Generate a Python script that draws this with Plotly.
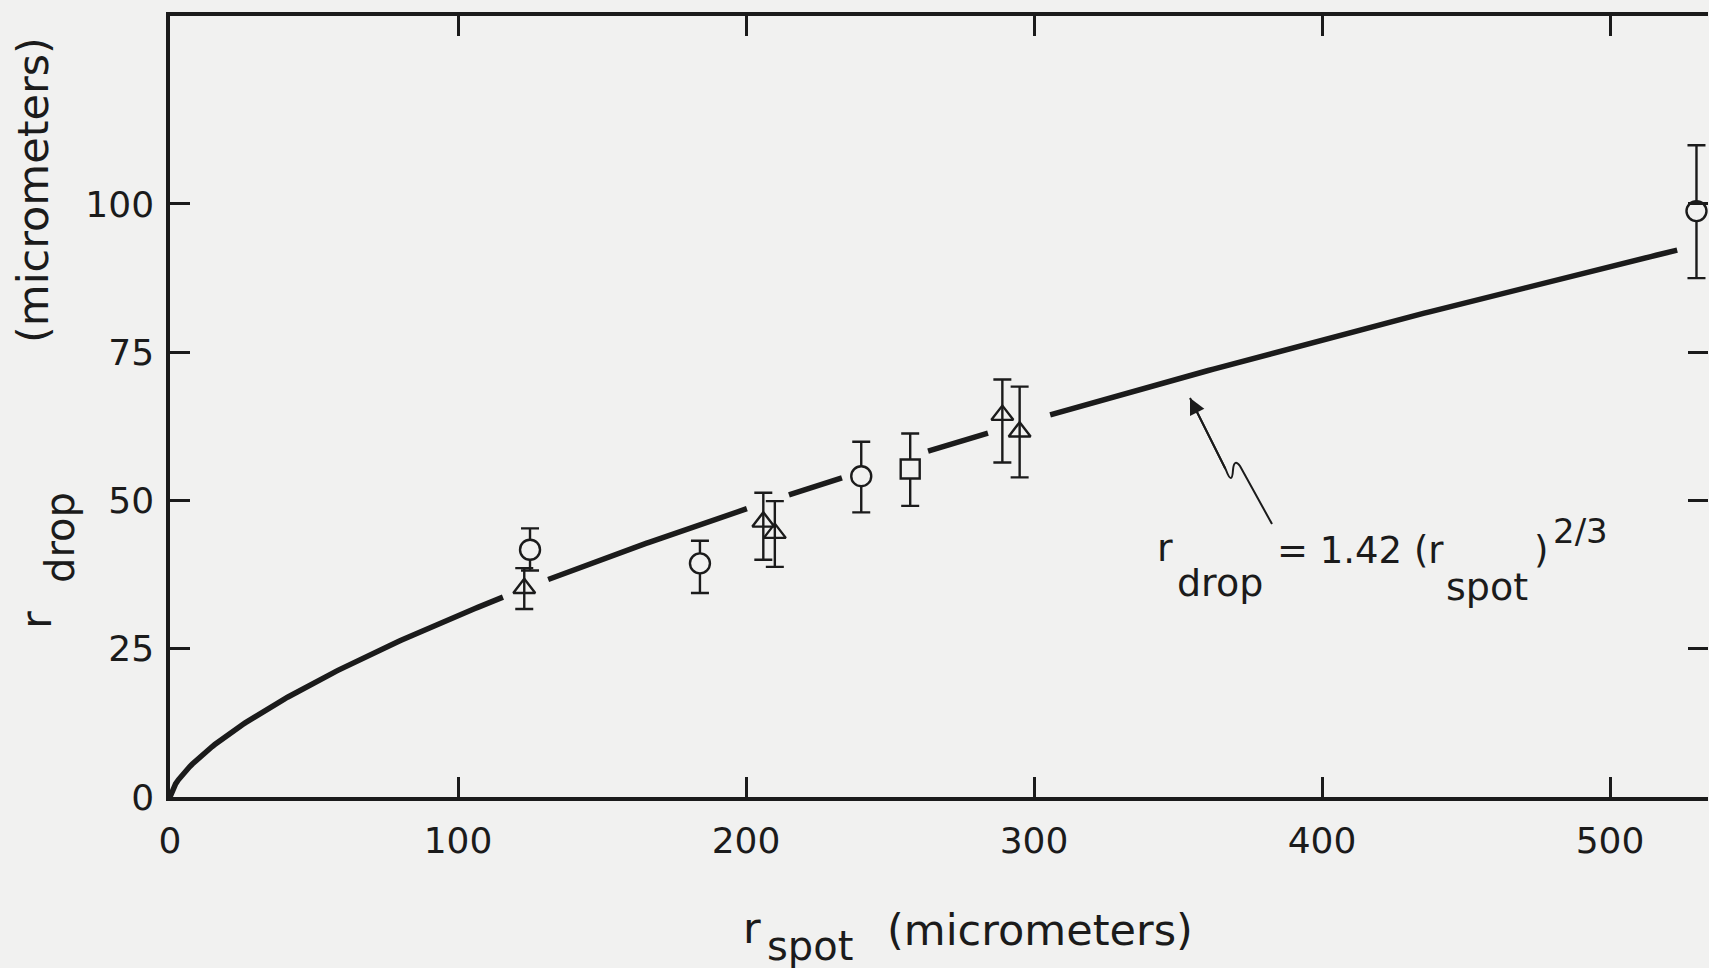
import numpy as np
import plotly.graph_objects as go

# ---- measured drop radius vs. spot radius (micrometers) ----
circle_spot = [125, 184, 240, 530]
circle_drop = [41.7, 39.4, 54.1, 98.8]
circle_err_hi = [3.6, 3.8, 5.8, 11.1]
circle_err_lo = [3.5, 5.0, 6.1, 11.3]

triangle_spot = [123, 206, 210, 289, 295]
triangle_drop = [35.2, 46.4, 44.5, 64.4, 61.6]
triangle_err_hi = [3.4, 4.9, 5.4, 6.0, 7.6]
triangle_err_lo = [3.5, 6.4, 5.7, 8.0, 7.7]

square_spot = [257]
square_drop = [55.3]
square_err_hi = [6.0]
square_err_lo = [6.2]

# ---- fitted relation r_drop = 1.42 * r_spot^(2/3) ----
fit_coef = 1.42
fit_exp = 2.0 / 3.0
# the fit line is broken where it runs through the data symbols
fit_pieces = [(0.0, 115.6), (131.3, 200.3), (214.9, 233.3), (263.2, 284.0), (305.6, 523.3)]

x_ticks = [0, 100, 200, 300, 400, 500]
y_ticks = [0, 25, 50, 75, 100]
x_range = [0, 534]
y_range = [0, 131.7]

# ---- page geometry (pixels) ----
W, H = 1709, 968
L, R, T, B = 170, 1708, 16, 797
INK = "#1b1b1b"
BG = "#f1f1f0"
FONT = "DejaVu Sans"


def px_to_data(px, py):
    x = x_range[0] + (px - L) / (R - L) * (x_range[1] - x_range[0])
    y = y_range[0] + (B - py) / (B - T) * (y_range[1] - y_range[0])
    return x, y


def px_to_paper(px, py):
    return (px - L) / (R - L), (B - py) / (B - T)


fig = go.Figure()

# fit curve, drawn piecewise
cx, cy = [], []
for a, b in fit_pieces:
    xs = np.linspace(a, b, 120)
    cx.extend(xs.tolist() + [None])
    cy.extend((fit_coef * xs ** fit_exp).tolist() + [None])
fig.add_trace(go.Scatter(x=cx, y=cy, mode="lines",
                         line=dict(color=INK, width=5.5), hoverinfo="skip"))


def err(hi, lo):
    return dict(type="data", symmetric=False, array=hi, arrayminus=lo,
                color=INK, thickness=2.4, width=9)


fig.add_trace(go.Scatter(
    x=triangle_spot, y=triangle_drop, mode="markers",
    error_y=err(triangle_err_hi, triangle_err_lo),
    marker=dict(symbol="triangle-up-open", size=19, color=INK,
                line=dict(color=INK, width=2.4))))
fig.add_trace(go.Scatter(
    x=circle_spot, y=circle_drop, mode="markers",
    error_y=err(circle_err_hi, circle_err_lo),
    marker=dict(symbol="circle", size=20, color=BG,
                line=dict(color=INK, width=2.4))))
fig.add_trace(go.Scatter(
    x=square_spot, y=square_drop, mode="markers",
    error_y=err(square_err_hi, square_err_lo),
    marker=dict(symbol="square", size=19, color=BG,
                line=dict(color=INK, width=2.4))))

# holder trace so the right-hand tick axis is drawn
fig.add_trace(go.Scatter(x=[0], y=[0], yaxis="y2", mode="markers",
                         marker=dict(opacity=0), hoverinfo="skip"))

# ---- text pieces ----
annotations = []


def put(text, px, py, size, angle=0, anchor="center"):
    xp, yp = px_to_paper(px, py)
    annotations.append(dict(text=text, x=xp, y=yp, xref="paper", yref="paper",
                            xanchor=anchor, yanchor="middle", showarrow=False,
                            textangle=angle,
                            font=dict(family=FONT, size=size, color=INK)))


# x axis title
put("r", 752, 928, 43)
put("spot", 810, 946, 40)
put("(micrometers)", 1040, 930, 43)
# y axis title (rotated)
put("r", 36, 620, 43, angle=-90)
put("drop", 60, 537, 40, angle=-90)
put("(micrometers)", 33, 190, 43, angle=-90)
# fit label
put("r", 1165, 548, 38)
put("drop", 1220, 583, 38)
put("= 1.42 (r", 1275, 550, 37, anchor="left")
put("spot", 1487, 587, 38)
put(")", 1541, 550, 37)
put("2/3", 1580, 531, 34)

# squiggle pointer from the label to the curve
pts = [(1190, 398), (1226, 470), (1232, 486), (1233, 470), (1234, 458),
       (1240, 466), (1272, 524)]
d = [px_to_data(*p) for p in pts]
path = ("M {0[0]},{0[1]} L {1[0]},{1[1]} Q {2[0]},{2[1]} {3[0]},{3[1]} "
        "Q {4[0]},{4[1]} {5[0]},{5[1]} L {6[0]},{6[1]}").format(*d)
shapes = [dict(type="path", path=path, xref="x", yref="y",
               line=dict(color=INK, width=2))]
tip = d[0]
annotations.append(dict(x=tip[0], y=tip[1], xref="x", yref="y", text="",
                        showarrow=True, arrowhead=2, arrowsize=1.6,
                        arrowwidth=2, arrowcolor=INK, ax=36, ay=72))

axis_common = dict(showgrid=False, zeroline=False, ticks="inside",
                   ticklen=20, tickwidth=3, tickcolor=INK,
                   linecolor=INK, linewidth=3.5,
                   tickfont=dict(family=FONT, size=36, color=INK))

fig.update_layout(
    width=W, height=H,
    margin=dict(l=L, r=W - R, t=T, b=H - B, pad=0),
    paper_bgcolor=BG, plot_bgcolor=BG,
    showlegend=False,
    xaxis=dict(range=x_range, tickvals=x_ticks, showline=True, mirror="ticks",
               ticklabelstandoff=9, **axis_common),
    yaxis=dict(range=y_range, tickvals=y_ticks, showline=True, mirror=False,
               ticklabelstandoff=5, **axis_common),
    yaxis2=dict(range=y_range, tickvals=y_ticks, overlaying="y", side="right",
                showline=False, showticklabels=False, showgrid=False,
                zeroline=False, ticks="inside", ticklen=20, tickwidth=3,
                tickcolor=INK),
    annotations=annotations,
    shapes=shapes,
)

fig.write_html("out.html")
